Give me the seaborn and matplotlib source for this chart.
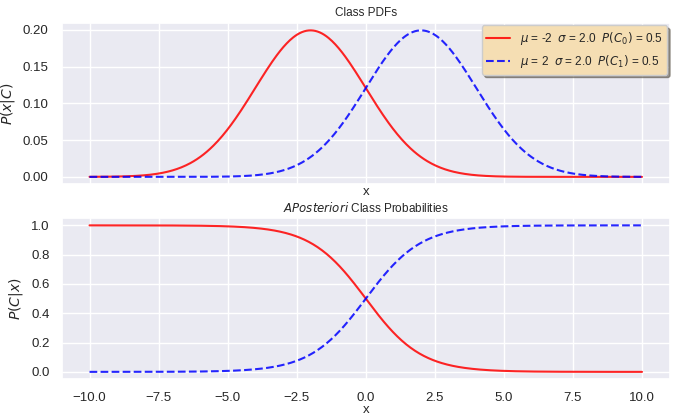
import numpy as np
import matplotlib
matplotlib.use("Agg")
import matplotlib.pyplot as plt
import seaborn as sns

# Parameters shown in the legend
mus = [-2, 2]
sigmas = [2.0, 2.0]
priors = [0.5, 0.5]
colors = ["red", "blue"]
styles = ["-", "--"]
x_min, x_max = -10.0, 10.0

sns.set_theme(style="darkgrid")
plt.rcParams["font.family"] = ["Liberation Sans", "DejaVu Sans"]
plt.rcParams["mathtext.fontset"] = "dejavusans"

x = np.linspace(x_min, x_max, 500)
pdfs = [np.exp(-(x - m) ** 2 / (2 * s ** 2)) / (s * np.sqrt(2 * np.pi)) for m, s in zip(mus, sigmas)]
joint = [p * pr for p, pr in zip(pdfs, priors)]
evidence = sum(joint)
posts = [j / evidence for j in joint]

fig, (ax1, ax2) = plt.subplots(2, 1, figsize=(6.73, 4.19), dpi=100, sharex=True)
fig.subplots_adjust(left=0.092, right=0.995, top=0.945, bottom=0.095, hspace=0.21)

for i in range(2):
    lbl = r"$\mu$ = %g  $\sigma$ = %.1f  $P(C_%d)$ = %.1f" % (mus[i], sigmas[i], i, priors[i])
    sns.lineplot(x=x, y=pdfs[i], ax=ax1, color=colors[i], linestyle=styles[i], alpha=0.85, lw=1.5, label=lbl)
    sns.lineplot(x=x, y=posts[i], ax=ax2, color=colors[i], linestyle=styles[i], alpha=0.85, lw=1.5)

ax1.set_title("Class PDFs", fontsize=8.5, pad=5)
ax1.set_ylabel(r"$P(x|C)$", fontsize=10)
ax1.set_xlabel("x", fontsize=9.5, labelpad=1)
ax1.tick_params(labelbottom=False, labelsize=9.5)
ax1.xaxis.label.set_visible(True)
leg = ax1.legend(loc="upper right", fontsize=8.5, facecolor="wheat", framealpha=1.0, shadow=True,
                 borderaxespad=0.2)

ax2.set_title(r"$\mathit{APosteriori}$ Class Probabilities", fontsize=8.5, pad=4)
ax2.set_ylabel(r"$P(C|x)$", fontsize=10)
ax2.set_xlabel("x", fontsize=9.5, labelpad=0)
ax2.tick_params(labelsize=9.5, pad=3)
ax2.set_xticks([-10, -7.5, -5, -2.5, 0, 2.5, 5, 7.5, 10])
ax2.set_yticks([0, 0.2, 0.4, 0.6, 0.8, 1.0])

fig.savefig("out.png", dpi=100)
